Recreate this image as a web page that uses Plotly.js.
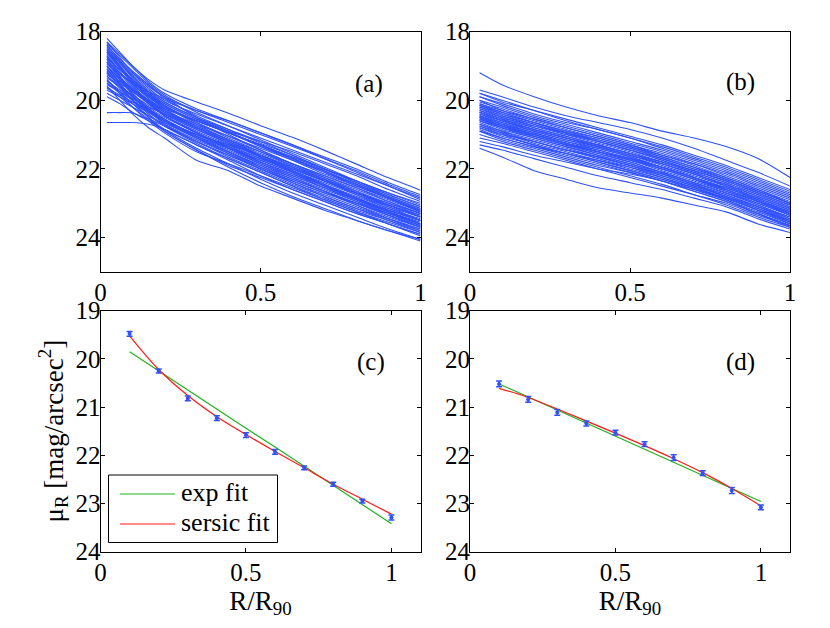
<!DOCTYPE html>
<html><head><meta charset="utf-8">
<script src="https://cdn.plot.ly/plotly-3.0.1.min.js"></script>
<style>html,body{margin:0;padding:0;background:#fff}#chart{width:830px;height:628px}</style>
</head><body><div id="chart"></div>
<script>
// ---------- data ----------
const R_A = [0.02, 0.06, 0.1, 0.15, 0.2, 0.3, 0.4, 0.5, 0.6, 0.7, 0.8, 0.9, 1.0];
const PROFILES_A = [
 [18.2, 18.6, 19.0, 19.4, 19.7, 20.05, 20.38, 20.74, 21.08, 21.46, 21.86, 22.26, 22.62],
 [18.3, 18.75, 19.2, 19.6, 19.9, 20.3, 20.65, 21.0, 21.35, 21.7, 22.05, 22.45, 22.8],
 [18.4, 18.8, 19.15, 19.55, 19.95, 20.45, 20.85, 21.25, 21.6, 22.0, 22.4, 22.8, 23.15],
 [18.45, 18.9, 19.35, 19.8, 20.15, 20.6, 20.95, 21.3, 21.65, 22.0, 22.35, 22.7, 23.05],
 [18.5, 19.0, 19.45, 19.9, 20.25, 20.75, 21.15, 21.5, 21.85, 22.2, 22.55, 22.95, 23.3],
 [18.55, 18.9, 19.25, 19.65, 20.0, 20.4, 20.75, 21.1, 21.45, 21.8, 22.15, 22.5, 22.85],
 [18.6, 19.05, 19.55, 20.05, 20.45, 20.95, 21.35, 21.75, 22.1, 22.45, 22.8, 23.15, 23.5],
 [18.65, 19.0, 19.4, 19.8, 20.1, 20.55, 20.9, 21.2, 21.5, 21.85, 22.2, 22.6, 22.95],
 [18.7, 19.15, 19.6, 20.0, 20.35, 20.8, 21.2, 21.6, 21.95, 22.3, 22.7, 23.1, 23.5],
 [18.75, 19.1, 19.45, 19.85, 20.2, 20.65, 21.05, 21.45, 21.85, 22.2, 22.55, 22.9, 23.25],
 [18.8, 19.3, 19.8, 20.25, 20.6, 21.1, 21.5, 21.9, 22.3, 22.65, 23.0, 23.35, 23.65],
 [18.85, 19.2, 19.55, 19.9, 20.2, 20.6, 20.95, 21.3, 21.7, 22.1, 22.5, 22.85, 23.2],
 [18.9, 19.3, 19.7, 20.1, 20.45, 20.9, 21.3, 21.7, 22.05, 22.4, 22.75, 23.1, 23.4],
 [18.95, 19.25, 19.5, 19.75, 19.95, 20.3, 20.6, 20.95, 21.3, 21.7, 22.1, 22.5, 22.9],
 [19.0, 19.4, 19.85, 20.3, 20.7, 21.2, 21.6, 22.0, 22.35, 22.7, 23.05, 23.4, 23.7],
 [19.05, 19.35, 19.65, 20.0, 20.3, 20.75, 21.15, 21.55, 21.9, 22.25, 22.6, 22.95, 23.3],
 [19.1, 19.5, 19.9, 20.3, 20.65, 21.05, 21.4, 21.75, 22.1, 22.5, 22.9, 23.3, 23.65],
 [19.15, 19.45, 19.75, 20.1, 20.4, 20.85, 21.25, 21.65, 22.0, 22.35, 22.7, 23.0, 23.3],
 [19.2, 19.6, 20.0, 20.4, 20.75, 21.25, 21.7, 22.1, 22.5, 22.85, 23.2, 23.5, 23.8],
 [19.25, 19.5, 19.75, 20.05, 20.3, 20.7, 21.05, 21.4, 21.75, 22.1, 22.45, 22.8, 23.15],
 [19.3, 19.65, 20.0, 20.35, 20.65, 21.1, 21.5, 21.9, 22.25, 22.6, 22.95, 23.3, 23.6],
 [19.35, 19.6, 19.85, 20.15, 20.45, 20.95, 21.4, 21.85, 22.25, 22.65, 23.05, 23.45, 23.8],
 [19.4, 19.75, 20.1, 20.5, 20.85, 21.4, 21.85, 22.3, 22.7, 23.05, 23.4, 23.75, 24.05],
 [19.45, 19.7, 19.95, 20.25, 20.55, 21.0, 21.35, 21.7, 22.05, 22.45, 22.85, 23.2, 23.5],
 [19.5, 19.8, 20.1, 20.45, 20.75, 21.2, 21.6, 22.0, 22.4, 22.75, 23.1, 23.45, 23.75],
 [19.55, 19.75, 19.95, 20.2, 20.4, 20.8, 21.2, 21.6, 21.95, 22.3, 22.65, 23.0, 23.35],
 [19.6, 19.9, 20.2, 20.55, 20.9, 21.45, 21.95, 22.4, 22.8, 23.15, 23.5, 23.8, 24.1],
 [19.65, 19.85, 20.05, 20.3, 20.55, 21.05, 21.5, 21.95, 22.35, 22.7, 23.0, 23.3, 23.6],
 [19.7, 19.9, 20.1, 20.35, 20.6, 21.0, 21.3, 21.6, 21.95, 22.35, 22.75, 23.15, 23.45],
 [19.8, 20.0, 20.2, 20.45, 20.7, 21.15, 21.55, 21.95, 22.3, 22.65, 23.0, 23.35, 23.7],
 [19.9, 20.1, 20.35, 20.6, 20.85, 21.3, 21.75, 22.2, 22.6, 22.95, 23.3, 23.6, 23.95],
 [20.36, 20.36, 20.37, 20.55, 20.75, 21.2, 21.65, 22.05, 22.45, 22.8, 23.15, 23.5, 23.85],
 [20.65, 20.65, 20.65, 20.7, 20.85, 21.3, 21.7, 22.1, 22.5, 22.9, 23.25, 23.6, 23.9],
 [18.35, 18.7, 19.05, 19.5, 19.85, 20.35, 20.75, 21.15, 21.55, 21.95, 22.35, 22.75, 23.1],
 [18.6, 18.95, 19.3, 19.7, 20.05, 20.5, 20.9, 21.35, 21.75, 22.15, 22.5, 22.85, 23.2],
 [19.0, 19.5, 20.0, 20.5, 20.9, 21.45, 21.9, 22.25, 22.6, 22.95, 23.3, 23.6, 23.9],
 [18.8, 19.1, 19.4, 19.75, 20.05, 20.5, 20.85, 21.2, 21.6, 22.0, 22.4, 22.75, 23.1],
 [19.2, 19.45, 19.7, 20.0, 20.25, 20.6, 20.95, 21.3, 21.65, 22.0, 22.35, 22.7, 23.0],
 [18.5, 18.85, 19.2, 19.55, 19.9, 20.5, 21.0, 21.45, 21.85, 22.25, 22.65, 23.05, 23.4],
 [19.4, 19.8, 20.2, 20.6, 20.95, 21.5, 21.85, 22.2, 22.55, 22.9, 23.25, 23.55, 23.85],
 [19.6, 20.0, 20.4, 20.8, 21.1, 21.75, 22.05, 22.5, 22.85, 23.2, 23.5, 23.8, 24.05],
 [18.9, 19.2, 19.5, 19.85, 20.15, 20.65, 21.1, 21.5, 21.9, 22.3, 22.7, 23.05, 23.4],
 [18.4, 18.85, 19.3, 19.75, 20.1, 20.55, 20.95, 21.35, 21.7, 22.05, 22.45, 22.85, 23.2],
 [18.7, 19.05, 19.4, 19.8, 20.15, 20.7, 21.15, 21.6, 22.0, 22.35, 22.7, 23.05, 23.35],
 [19.0, 19.35, 19.7, 20.1, 20.45, 20.95, 21.35, 21.8, 22.2, 22.55, 22.9, 23.25, 23.55],
 [18.6, 19.0, 19.45, 19.85, 20.2, 20.6, 20.95, 21.3, 21.7, 22.05, 22.45, 22.85, 23.25],
 [19.3, 19.6, 19.9, 20.25, 20.55, 21.05, 21.45, 21.85, 22.2, 22.55, 22.9, 23.25, 23.6],
 [18.3, 18.65, 19.0, 19.45, 19.8, 20.25, 20.6, 20.95, 21.3, 21.65, 22.0, 22.4, 22.75],
 [19.1, 19.4, 19.7, 20.05, 20.35, 20.8, 21.2, 21.65, 22.1, 22.5, 22.85, 23.2, 23.5],
 [18.9, 19.35, 19.8, 20.2, 20.5, 20.95, 21.4, 21.8, 22.15, 22.5, 22.85, 23.2, 23.5],
 [19.5, 19.75, 20.0, 20.3, 20.6, 21.1, 21.55, 22.0, 22.4, 22.8, 23.15, 23.45, 23.75],
 [18.75, 19.2, 19.65, 20.05, 20.4, 20.85, 21.25, 21.65, 22.05, 22.45, 22.85, 23.25, 23.6],
 [19.2, 19.55, 19.9, 20.3, 20.6, 21.0, 21.4, 21.8, 22.15, 22.55, 22.95, 23.35, 23.7],
 [18.55, 19.0, 19.5, 19.95, 20.3, 20.8, 21.25, 21.65, 22.0, 22.35, 22.7, 23.05, 23.4]
];

const R_B = [0.03, 0.1, 0.2, 0.3, 0.4, 0.5, 0.6, 0.7, 0.8, 0.9, 1.0];
const PROFILES_B = [
 [19.2, 19.55, 19.9, 20.2, 20.45, 20.65, 20.9, 21.1, 21.35, 21.7, 22.25],
 [19.7, 19.9, 20.2, 20.45, 20.65, 20.85, 21.1, 21.4, 21.75, 22.1, 22.5],
 [19.8, 20.05, 20.3, 20.55, 20.8, 21.05, 21.3, 21.6, 21.9, 22.25, 22.6],
 [19.9, 20.1, 20.4, 20.65, 20.85, 21.1, 21.4, 21.7, 22.0, 22.35, 22.7],
 [20.0, 20.2, 20.5, 20.75, 21.0, 21.25, 21.5, 21.8, 22.1, 22.45, 22.8],
 [20.1, 20.3, 20.55, 20.8, 21.05, 21.3, 21.6, 21.9, 22.25, 22.6, 22.95],
 [20.15, 20.35, 20.65, 20.9, 21.1, 21.35, 21.6, 21.85, 22.15, 22.5, 22.85],
 [20.2, 20.45, 20.7, 21.0, 21.25, 21.5, 21.8, 22.1, 22.4, 22.75, 23.1],
 [20.25, 20.5, 20.8, 21.05, 21.3, 21.55, 21.85, 22.15, 22.45, 22.8, 23.15],
 [20.3, 20.5, 20.75, 20.95, 21.15, 21.4, 21.7, 22.0, 22.3, 22.65, 23.0],
 [20.35, 20.6, 20.9, 21.15, 21.4, 21.65, 21.95, 22.25, 22.55, 22.9, 23.25],
 [20.4, 20.6, 20.85, 21.1, 21.35, 21.6, 21.9, 22.2, 22.5, 22.85, 23.2],
 [20.4, 20.65, 20.95, 21.2, 21.45, 21.7, 22.0, 22.3, 22.65, 23.0, 23.35],
 [20.45, 20.7, 21.0, 21.25, 21.45, 21.7, 21.95, 22.25, 22.55, 22.9, 23.3],
 [20.5, 20.7, 20.95, 21.2, 21.4, 21.65, 21.95, 22.25, 22.6, 22.95, 23.3],
 [20.5, 20.75, 21.05, 21.3, 21.55, 21.8, 22.1, 22.4, 22.7, 23.05, 23.4],
 [20.55, 20.8, 21.1, 21.35, 21.6, 21.85, 22.1, 22.4, 22.7, 23.0, 23.35],
 [20.6, 20.8, 21.05, 21.3, 21.5, 21.75, 22.05, 22.35, 22.65, 22.95, 23.3],
 [20.65, 20.9, 21.2, 21.45, 21.7, 21.95, 22.25, 22.55, 22.85, 23.2, 23.5],
 [20.7, 20.9, 21.15, 21.4, 21.65, 21.9, 22.15, 22.45, 22.75, 23.1, 23.45],
 [20.75, 21.0, 21.3, 21.55, 21.8, 22.05, 22.3, 22.6, 22.9, 23.25, 23.6],
 [20.8, 21.0, 21.2, 21.45, 21.65, 21.9, 22.2, 22.5, 22.8, 23.1, 23.4],
 [20.85, 21.1, 21.35, 21.6, 21.85, 22.1, 22.35, 22.65, 22.95, 23.3, 23.65],
 [20.9, 21.1, 21.35, 21.55, 21.75, 21.95, 22.2, 22.5, 22.8, 23.15, 23.5],
 [21.0, 21.2, 21.45, 21.7, 21.95, 22.2, 22.45, 22.75, 23.05, 23.4, 23.7],
 [21.1, 21.25, 21.5, 21.75, 22.0, 22.25, 22.5, 22.75, 23.0, 23.35, 23.65],
 [21.3, 21.45, 21.7, 21.95, 22.2, 22.4, 22.6, 22.85, 23.1, 23.45, 23.75],
 [21.4, 21.65, 22.05, 22.3, 22.55, 22.7, 22.85, 23.05, 23.25, 23.6, 23.85],
 [20.1, 20.35, 20.65, 20.95, 21.2, 21.45, 21.75, 22.05, 22.35, 22.7, 23.05],
 [20.3, 20.55, 20.85, 21.1, 21.35, 21.6, 21.85, 22.15, 22.5, 22.85, 23.2],
 [20.6, 20.85, 21.1, 21.35, 21.6, 21.85, 22.15, 22.45, 22.8, 23.15, 23.55],
 [20.0, 20.3, 20.6, 20.85, 21.1, 21.35, 21.65, 21.95, 22.3, 22.65, 23.0],
 [20.45, 20.65, 20.9, 21.15, 21.35, 21.6, 21.85, 22.15, 22.45, 22.8, 23.15],
 [20.7, 20.95, 21.25, 21.5, 21.75, 22.0, 22.25, 22.55, 22.9, 23.3, 23.7],
 [20.2, 20.4, 20.65, 20.9, 21.15, 21.4, 21.65, 21.95, 22.25, 22.6, 23.0],
 [21.2, 21.35, 21.6, 21.8, 22.0, 22.15, 22.35, 22.6, 22.85, 23.2, 23.55],
 [20.55, 20.75, 21.0, 21.25, 21.5, 21.75, 22.0, 22.3, 22.6, 22.95, 23.35],
 [19.9, 20.15, 20.45, 20.7, 20.95, 21.2, 21.45, 21.75, 22.05, 22.4, 22.75],
 [20.8, 21.05, 21.3, 21.55, 21.8, 22.05, 22.3, 22.55, 22.85, 23.2, 23.6],
 [20.35, 20.55, 20.8, 21.05, 21.3, 21.55, 21.8, 22.1, 22.4, 22.75, 23.1],
 [20.05, 20.25, 20.55, 20.8, 21.05, 21.3, 21.55, 21.85, 22.2, 22.55, 22.9],
 [20.25, 20.45, 20.75, 21.0, 21.2, 21.45, 21.75, 22.05, 22.35, 22.7, 23.05],
 [20.45, 20.7, 21.0, 21.25, 21.5, 21.75, 22.0, 22.3, 22.6, 22.95, 23.3],
 [20.6, 20.8, 21.05, 21.3, 21.55, 21.8, 22.1, 22.4, 22.7, 23.05, 23.45],
 [20.15, 20.4, 20.7, 20.95, 21.2, 21.45, 21.7, 22.0, 22.3, 22.65, 23.0],
 [20.9, 21.15, 21.4, 21.65, 21.9, 22.1, 22.35, 22.65, 22.95, 23.3, 23.65],
 [20.35, 20.6, 20.85, 21.1, 21.3, 21.55, 21.8, 22.05, 22.35, 22.7, 23.05],
 [20.75, 20.95, 21.2, 21.45, 21.65, 21.9, 22.15, 22.45, 22.75, 23.1, 23.5],
 [19.8, 20.0, 20.3, 20.6, 20.85, 21.1, 21.35, 21.65, 21.95, 22.3, 22.65],
 [20.5, 20.75, 21.0, 21.25, 21.5, 21.7, 21.95, 22.25, 22.55, 22.9, 23.25]
];

const R_FIT = [0.1, 0.2, 0.3, 0.4, 0.5, 0.6, 0.7, 0.8, 0.9, 1.0];
const MU_C = [19.48, 20.25, 20.82, 21.23, 21.58, 21.93, 22.26, 22.60, 22.95, 23.29];
const ERR_C = [0.05, 0.04, 0.05, 0.05, 0.05, 0.05, 0.04, 0.04, 0.04, 0.05];
const EXP_C = [19.85, 20.25, 20.64, 21.04, 21.44, 21.83, 22.23, 22.62, 23.02, 23.42];
const SERSIC_C = [19.52, 20.22, 20.76, 21.20, 21.57, 21.92, 22.26, 22.60, 22.91, 23.22];

const MU_D = [20.52, 20.84, 21.11, 21.34, 21.53, 21.77, 22.05, 22.37, 22.73, 23.08];
const ERR_D = [0.06, 0.06, 0.06, 0.05, 0.05, 0.05, 0.06, 0.05, 0.06, 0.05];
const EXP_D = [20.52, 20.79, 21.06, 21.33, 21.60, 21.88, 22.15, 22.42, 22.69, 22.96];
const SERSIC_D = [20.61, 20.80, 21.04, 21.29, 21.54, 21.80, 22.07, 22.36, 22.69, 23.05];

const X_TICKS = [0, 0.5, 1];
const Y_TICKS_TOP = [18, 20, 22, 24];
const Y_TICKS_BOTTOM = [19, 20, 21, 22, 23, 24];
const PANEL_LABELS = ['(a)', '(b)', '(c)', '(d)'];
const LEGEND_NAMES = ['exp fit', 'sersic fit'];

// ---------- styling ----------
const FONT = '"Liberation Serif", "Times New Roman", serif';
const BLUE = '#2f50ff';
const GREEN = '#1fb41f';
const RED = '#ff1a1a';
const W = 830, H = 628;

const traces = [];
PROFILES_A.forEach(p => traces.push({x: R_A, y: p, xaxis: 'x', yaxis: 'y', mode: 'lines',
  line: {color: BLUE, width: 1.1, shape: 'spline', smoothing: 0.7}, showlegend: false, hoverinfo: 'skip'}));
PROFILES_B.forEach(p => traces.push({x: R_B, y: p, xaxis: 'x2', yaxis: 'y2', mode: 'lines',
  line: {color: BLUE, width: 1.1, shape: 'spline', smoothing: 0.7}, showlegend: false, hoverinfo: 'skip'}));

function fitPanel(xa, ya, mu, err, ex, se) {
  traces.push({x: R_FIT, y: ex, xaxis: xa, yaxis: ya, mode: 'lines', name: LEGEND_NAMES[0],
    line: {color: GREEN, width: 1.2}, showlegend: false});
  traces.push({x: R_FIT, y: se, xaxis: xa, yaxis: ya, mode: 'lines', name: LEGEND_NAMES[1],
    line: {color: RED, width: 1.2, shape: 'spline'}, showlegend: false});
  traces.push({x: R_FIT, y: mu, xaxis: xa, yaxis: ya, mode: 'markers', showlegend: false,
    marker: {color: BLUE, size: 4},
    error_y: {type: 'data', array: err, visible: true, color: BLUE, thickness: 1.5, width: 3}});
}
fitPanel('x3', 'y3', MU_C, ERR_C, EXP_C, SERSIC_C);
fitPanel('x4', 'y4', MU_D, ERR_D, EXP_D, SERSIC_D);

const colL = [100.5 / W, 420.5 / W];
const colR = [470 / W, 790 / W];
const rowT = [1 - 272 / H, 1 - 31.5 / H];
const rowB = [1 - 551.7 / H, 1 - 310.7 / H];

function xax(domain, range, anchor, title) {
  const a = {domain: domain, range: range, anchor: anchor, tickvals: X_TICKS, ticktext: X_TICKS.map(String),
    ticks: 'inside', ticklen: 4, tickcolor: '#000', showline: true, linecolor: '#000', linewidth: 1,
    mirror: 'ticks', showgrid: false, zeroline: false, ticklabelstandoff: -2,
    tickfont: {family: FONT, size: 25, color: '#000'}};
  if (title) a.title = {text: title, font: {family: FONT, size: 27, color: '#000'}, standoff: 2};
  return a;
}
function yax(domain, range, ticks, anchor, title) {
  const a = {domain: domain, range: range, anchor: anchor, tickvals: ticks, ticktext: ticks.map(String),
    ticks: 'inside', ticklen: 4, tickcolor: '#000', showline: true, linecolor: '#000', linewidth: 1,
    mirror: 'ticks', showgrid: false, zeroline: false, ticklabelstandoff: -6,
    tickfont: {family: FONT, size: 25, color: '#000'}};
  if (title) a.title = {text: title, font: {family: FONT, size: 27, color: '#000'}, standoff: 4};
  return a;
}

const TXT = {family: FONT, size: 25, color: '#000'};
const annotations = [
  {xref: 'x', yref: 'y', x: 0.84, y: 19.52, text: PANEL_LABELS[0]},
  {xref: 'x2', yref: 'y2', x: 0.844, y: 19.47, text: PANEL_LABELS[1]},
  {xref: 'x3', yref: 'y3', x: 0.93, y: 20.07, text: PANEL_LABELS[2]},
  {xref: 'x4', yref: 'y4', x: 0.93, y: 20.07, text: PANEL_LABELS[3]}
].map(a => Object.assign(a, {showarrow: false, font: TXT}));

// legend of panel (c), drawn in page coordinates
const LEG = {x0: 108.5, x1: 277.5, y0: 475, y1: 542.5, rows: [494, 524], lx0: 120, lx1: 175, tx: 179};
const px = v => v / W, py = v => 1 - v / H;
const shapes = [
  {type: 'rect', xref: 'paper', yref: 'paper', x0: px(LEG.x0), x1: px(LEG.x1), y0: py(LEG.y1), y1: py(LEG.y0),
   line: {color: '#000', width: 1}, fillcolor: '#fff', layer: 'above'},
  {type: 'line', xref: 'paper', yref: 'paper', x0: px(LEG.lx0), x1: px(LEG.lx1), y0: py(LEG.rows[0]), y1: py(LEG.rows[0]),
   line: {color: GREEN, width: 1.2}, layer: 'above'},
  {type: 'line', xref: 'paper', yref: 'paper', x0: px(LEG.lx0), x1: px(LEG.lx1), y0: py(LEG.rows[1]), y1: py(LEG.rows[1]),
   line: {color: RED, width: 1.2}, layer: 'above'}
];
LEGEND_NAMES.forEach((n, i) => annotations.push({xref: 'paper', yref: 'paper', x: px(LEG.tx), y: py(LEG.rows[i] - 2),
  xanchor: 'left', yanchor: 'middle', text: n, showarrow: false, font: {family: FONT, size: 26, color: '#000'}}));

const layout = {
  width: W, height: H, margin: {l: 0, r: 0, t: 0, b: 0},
  paper_bgcolor: '#fff', plot_bgcolor: '#fff',
  font: {family: FONT, size: 25, color: '#000'},
  xaxis: xax(colL, [0, 1], 'y'),
  yaxis: yax(rowT, [25, 18], Y_TICKS_TOP, 'x'),
  xaxis2: xax(colR, [0, 1], 'y2'),
  yaxis2: yax(rowT, [25, 18], Y_TICKS_TOP, 'x2'),
  xaxis3: xax(colL, [0, 1.1], 'y3', 'R/R<sub>90</sub>'),
  yaxis3: yax(rowB, [24, 19], Y_TICKS_BOTTOM, 'x3', 'μ<sub>R</sub> [mag/arcsec<sup>2</sup>]'),
  xaxis4: xax(colR, [0, 1.1], 'y4', 'R/R<sub>90</sub>'),
  yaxis4: yax(rowB, [24, 19], Y_TICKS_BOTTOM, 'x4'),
  showlegend: false,
  shapes: shapes,
  annotations: annotations
};

Plotly.newPlot('chart', traces, layout, {staticPlot: true, displayModeBar: false});
</script>
</body></html>
